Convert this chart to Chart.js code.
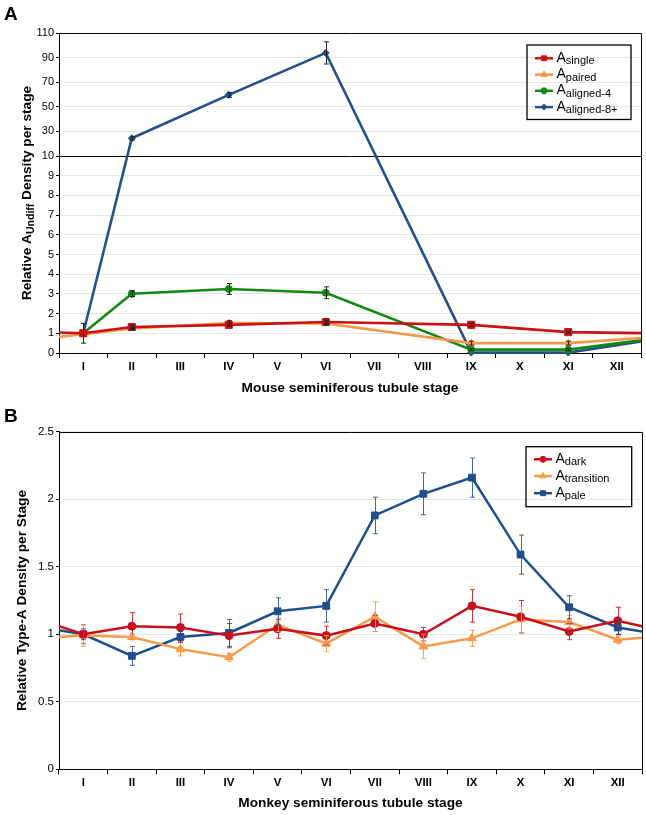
<!DOCTYPE html>
<html><head><meta charset="utf-8">
<script src="https://cdn.jsdelivr.net/npm/chart.js@4.4.1/dist/chart.umd.min.js"></script>
<style>
html,body{margin:0;padding:0;background:#fff;}
#wrapA{position:absolute;left:0;top:0;width:646px;height:405px;}
#wrapB{position:absolute;left:0;top:405px;width:646px;height:410px;}
</style></head><body>
<div id="wrapA"><canvas id="cA"></canvas></div>
<div id="wrapB"><canvas id="cB"></canvas></div>
<script>
const FONT = "'Liberation Sans', Arial, Helvetica, sans-serif";
const stages = ['I','II','III','IV','V','VI','VII','VIII','IX','X','XI','XII'];

// ---- Panel A: mouse (null = stage not measured); edges = [left border, right border]
const mouseSingle     = [1.00, 1.32, null, 1.43, null, 1.57, null, null, 1.43, null, 1.06, null];
const mouseSingleErr  = [0,    0.08, null, 0.08, null, 0.10, null, null, 0.08, null, 0.05, null];
const mouseSingleEdge = [1.04, 1.01];
const mousePaired     = [0.95, 1.24, null, 1.52, null, 1.50, null, null, 0.50, null, 0.50, null];
const mousePairedErr  = [0,    0.06, null, 0.12, null, 0.08, null, null, 0.10, null, 0.10, null];
const mousePairedEdge = [0.82, 0.76];
const mouseAl4        = [1.00, 3.01, null, 3.25, null, 3.06, null, null, 0.17, null, 0.17, null];
const mouseAl4Err     = [0,    0.15, null, 0.28, null, 0.30, null, null, 0.05, null, 0.05, null];
const mouseAl4Edge    = [null, 0.64];
const mouseAl8        = [1.00, 24.4, null, 59.7, null, 93.8, null, null, 0.02, null, 0.02, null];
const mouseAl8Err     = [0.5,  1.5,  null, 2.0,  null, 9.0,  null, null, 0,    null, 0,    null];
const mouseAl8Edge    = [null, 0.59];
const yTicksA = [0,1,2,3,4,5,6,7,8,9,10,30,50,70,90,110];
const namesA = [['A','single'],['A','paired'],['A','aligned-4'],['A','aligned-8+']];

// ---- Panel B: monkey
const monkeyDark      = [1.00, 1.06, 1.05, 0.99, 1.04, 0.99, 1.08, 1.00, 1.21, 1.13, 1.02, 1.10];
const monkeyDarkErr   = [0.07, 0.10, 0.10, 0.09, 0.07, 0.07, 0.06, 0.05, 0.12, 0.12, 0.06, 0.10];
const monkeyDarkEdge  = [1.06, 1.06];
const monkeyTrans     = [0.99, 0.98, 0.89, 0.83, 1.07, 0.93, 1.13, 0.91, 0.97, 1.11, 1.09, 0.96];
const monkeyTransErr  = [0.08, 0.02, 0.05, 0.03, 0.05, 0.06, 0.11, 0.09, 0.06, 0.10, 0.05, 0.03];
const monkeyTransEdge = [0.98, 0.975];
const monkeyPale      = [1.00, 0.84, 0.98, 1.01, 1.17, 1.21, 1.88, 2.04, 2.16, 1.59, 1.20, 1.05];
const monkeyPaleErr   = [0.04, 0.07, 0.04, 0.10, 0.10, 0.12, 0.135,0.155,0.145,0.145,0.085,0.05];
const monkeyPaleEdge  = [1.03, 1.02];
const yTicksB = [0, 0.5, 1, 1.5, 2, 2.5];
const namesB = [['A','dark'],['A','transition'],['A','pale']];

// ---- broken y scale (0-10 linear, then 10-110 compressed)
const BREAK = 10, UPPER_RATIO = 1.249 / 20;
class BrokenLinearScale extends Chart.LinearScale {
  static id = 'brokenLinear';
  buildTicks() { return yTicksA.map(v => ({value: v})); }
  _tr(v) { return v <= BREAK ? v : BREAK + (v - BREAK) * UPPER_RATIO; }
  getPixelForValue(v) {
    const a = this._tr(this.min), b = this._tr(this.max);
    return this.getPixelForDecimal((this._tr(v) - a) / (b - a));
  }
  getValueForPixel(p) {
    const a = this._tr(this.min), b = this._tr(this.max);
    const t = a + this.getDecimalForPixel(p) * (b - a);
    return t <= BREAK ? t : BREAK + (t - BREAK) / UPPER_RATIO;
  }
}
Chart.register(BrokenLinearScale);

function buildPoints(vals, errs, edges) {
  const pts = [];
  if (edges[0] != null) pts.push({x: 0.5, y: edges[0], edge: true});
  vals.forEach((v, i) => { if (v != null) pts.push({x: i + 1, y: v, err: errs[i] || 0}); });
  if (edges[1] != null) pts.push({x: 12.5, y: edges[1], edge: true});
  return pts;
}
function ds(label, vals, errs, edges, color, style, r, errColor, bw) {
  return {
    label, data: buildPoints(vals, errs, edges),
    borderColor: color, backgroundColor: color, borderWidth: bw,
    pointStyle: style, pointRadius: c => (c.raw && c.raw.edge) ? 0 : r,
    pointBackgroundColor: color, pointBorderColor: color, pointBorderWidth: 1,
    tension: 0, clip: false, errorColor: errColor
  };
}

const errorBars = {
  id: 'errorBars',
  afterDatasetsDraw(chart) {
    const ctx = chart.ctx, yS = chart.scales.y;
    chart.data.datasets.forEach((d, di) => {
      const meta = chart.getDatasetMeta(di);
      ctx.save();
      ctx.strokeStyle = d.errorColor; ctx.lineWidth = 1;
      meta.data.forEach((pt, i) => {
        const raw = d.data[i];
        if (!raw.err) return;
        const x = Math.round(pt.x) + 0.5;
        const y1 = yS.getPixelForValue(raw.y + raw.err), y2 = yS.getPixelForValue(raw.y - raw.err);
        ctx.beginPath();
        ctx.moveTo(x, y1); ctx.lineTo(x, y2);
        ctx.moveTo(x - 2.5, y1); ctx.lineTo(x + 2.5, y1);
        ctx.moveTo(x - 2.5, y2); ctx.lineTo(x + 2.5, y2);
        ctx.stroke();
      });
      ctx.restore();
    });
  }
};

function drawRich(ctx, segs, x, y) {
  let cx = x;
  segs.forEach(s => { ctx.font = s.font; ctx.fillText(s.t, cx, y + (s.dy || 0)); cx += ctx.measureText(s.t).width; });
  return cx - x;
}
function richWidth(ctx, segs) {
  let w = 0; segs.forEach(s => { ctx.font = s.font; w += ctx.measureText(s.t).width; }); return w;
}

const decor = {
  id: 'decor',
  afterDraw(chart, args, o) {
    const ctx = chart.ctx, ca = chart.chartArea;
    ctx.save();
    // frame top/right
    ctx.strokeStyle = '#000'; ctx.lineWidth = 1;
    ctx.beginPath();
    ctx.moveTo(Math.round(ca.left), Math.round(ca.top) + 0.5);
    ctx.lineTo(Math.round(ca.right) + 0.5, Math.round(ca.top) + 0.5);
    ctx.lineTo(Math.round(ca.right) + 0.5, Math.round(ca.bottom));
    ctx.stroke();
    // panel letter
    ctx.fillStyle = '#000'; ctx.textBaseline = 'alphabetic'; ctx.textAlign = 'left';
    ctx.font = 'bold 19px ' + FONT;
    ctx.fillText(o.letter, 4, o.letterY);
    // rotated y title with subscript
    if (o.yTitle) {
      ctx.save();
      ctx.translate(o.yTitleX, (ca.top + ca.bottom) / 2);
      ctx.rotate(-Math.PI / 2);
      const w = richWidth(ctx, o.yTitle);
      drawRich(ctx, o.yTitle, -w / 2, 0);
      ctx.restore();
    }
    // legend
    const L = o.legend;
    ctx.lineWidth = 1.3; ctx.strokeStyle = '#000';
    ctx.strokeRect(L.x, L.y, L.w, L.h);
    chart.data.datasets.forEach((d, i) => {
      const y = L.rows[i];
      ctx.strokeStyle = d.borderColor; ctx.lineWidth = 2.5;
      ctx.beginPath(); ctx.moveTo(L.x + 8, y); ctx.lineTo(L.x + 26, y); ctx.stroke();
      ctx.fillStyle = d.borderColor; ctx.strokeStyle = d.borderColor; ctx.lineWidth = 1;
      Chart.helpers.drawPoint(ctx, {pointStyle: d.pointStyle, radius: L.mr[i], rotation: 0, borderWidth: 1}, L.x + 17, y);
      ctx.fillStyle = '#000';
      drawRich(ctx, [{t: L.names[i][0], font: '14px ' + FONT}, {t: L.names[i][1], font: '11px ' + FONT, dy: 2.5}], L.x + 29.5, y + 3.6);
    });
    ctx.restore();
  }
};

function xAxis(h, titleText, titlePadBottom) {
  return {
    type: 'linear', min: 0.5, max: 12.5,
    afterBuildTicks: s => { s.ticks = stages.map((_, i) => ({value: i + 1})); },
    afterFit: s => { s.height = h; },
    ticks: { callback: v => stages[Math.round(v) - 1], autoSkip: false, maxRotation: 0, minRotation: 0,
             padding: 2, color: '#000', font: {family: FONT, size: 11.5, weight: 'bold'} },
    grid: { display: true, drawOnChartArea: false, drawTicks: true, tickLength: 5, offset: true, color: '#000', lineWidth: 1 },
    border: { display: true, color: '#000', width: 1 },
    title: { display: true, text: titleText, color: '#000', font: {family: FONT, size: 13.7, weight: 'bold'},
             padding: {top: 0, bottom: titlePadBottom} }
  };
}

Chart.defaults.font.family = FONT;

const chartA = new Chart(document.getElementById('cA'), {
  type: 'line',
  data: { datasets: [
    ds('A single', mouseSingle, mouseSingleErr, mouseSingleEdge, '#cc1111', 'rect', 5, '#222', 2.6),
    ds('A paired', mousePaired, mousePairedErr, mousePairedEdge, '#f79646', 'triangle', 4, '#222', 2.6),
    ds('A aligned-4', mouseAl4, mouseAl4Err, mouseAl4Edge, '#128a12', 'circle', 3.5, '#222', 2.6),
    ds('A aligned-8+', mouseAl8, mouseAl8Err, mouseAl8Edge, '#24508a', 'rectRot', 3.5, '#222', 2.6)
  ]},
  options: {
    responsive: true, maintainAspectRatio: false, animation: false, devicePixelRatio: 1, events: [],
    layout: { padding: {left: 0, right: 4, top: 33, bottom: 0} },
    plugins: {
      legend: {display: false}, tooltip: {enabled: false},
      decor: {
        letter: 'A', letterY: 19.5, yTitleX: 30.5,
        yTitle: [{t: 'Relative A', font: 'bold 13.7px ' + FONT},
                 {t: 'Undiff', font: 'bold 10.5px ' + FONT, dy: 3},
                 {t: ' Density per stage', font: 'bold 13.7px ' + FONT}],
        legend: {x: 527, y: 45, w: 104, h: 74.5, rows: [58.3, 74.6, 90.8, 107.1], names: namesA, mr: [3.5, 3.5, 3, 3]}
      }
    },
    scales: {
      x: xAxis(52, 'Mouse seminiferous tubule stage', 8.5),
      y: {
        type: 'brokenLinear', min: 0, max: 110,
        afterFit: s => { s.width = 59; },
        ticks: { autoSkip: false, padding: 2, color: '#000', font: {family: FONT, size: 11}, callback: v => String(v) },
        grid: { color: c => (c.tick && c.tick.value === 10) ? '#000' : '#e6e6e6', tickColor: '#000', tickLength: 3, lineWidth: 1 },
        border: { display: true, color: '#000', width: 1 }
      }
    }
  },
  plugins: [errorBars, decor]
});

const chartB = new Chart(document.getElementById('cB'), {
  type: 'line',
  data: { datasets: [
    ds('A dark', monkeyDark, monkeyDarkErr, monkeyDarkEdge, '#c8101c', 'circle', 4, 'rgba(200,16,28,0.85)', 2.5),
    ds('A transition', monkeyTrans, monkeyTransErr, monkeyTransEdge, '#f79a4a', 'triangle', 5, 'rgba(247,154,74,0.9)', 2.5),
    ds('A pale', monkeyPale, monkeyPaleErr, monkeyPaleEdge, '#1f4f8b', 'rect', 4.8, 'rgba(31,79,139,0.85)', 2.5)
  ]},
  options: {
    responsive: true, maintainAspectRatio: false, animation: false, devicePixelRatio: 1, events: [],
    layout: { padding: {left: 0, right: 4, top: 26.7, bottom: 0} },
    plugins: {
      legend: {display: false}, tooltip: {enabled: false},
      decor: {
        letter: 'B', letterY: 16.7, yTitle: null,
        legend: {x: 526, y: 41.7, w: 105.7, h: 60, rows: [54.3, 71.1, 88.2], names: namesB, mr: [3, 3.5, 3.5]}
      }
    },
    scales: {
      x: xAxis(45.7, 'Monkey seminiferous tubule stage', 3.8),
      y: {
        type: 'linear', min: 0, max: 2.5,
        afterBuildTicks: s => { s.ticks = yTicksB.map(v => ({value: v})); },
        afterFit: s => { s.width = 59; },
        ticks: { autoSkip: false, padding: 2, color: '#000', font: {family: FONT, size: 11.5}, callback: v => String(+v.toFixed(2)) },
        grid: { color: '#e6e6e6', tickColor: '#000', tickLength: 3, lineWidth: 1 },
        border: { display: true, color: '#000', width: 1 },
        title: { display: true, text: 'Relative Type-A Density per Stage', color: '#000',
                 font: {family: FONT, size: 13.7, weight: 'bold'}, padding: {top: 13.8, bottom: 0} }
      }
    }
  },
  plugins: [errorBars, decor]
});
</script>
</body></html>
